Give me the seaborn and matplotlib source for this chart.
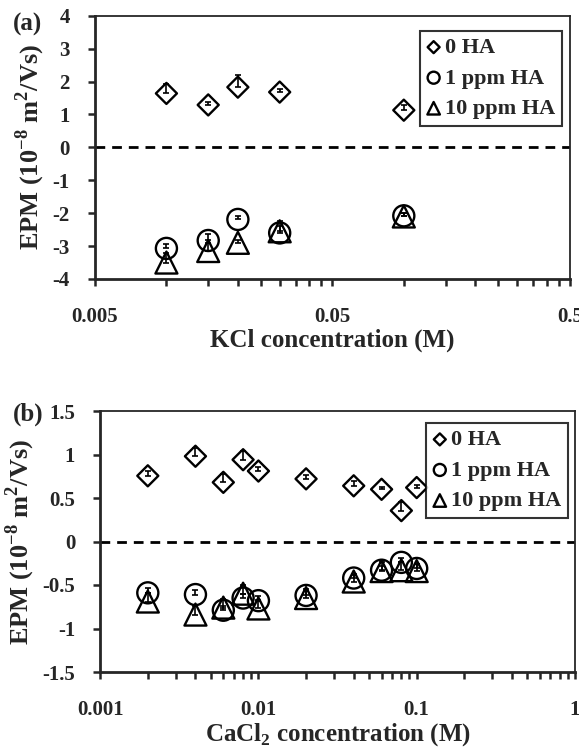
import numpy as np
import pandas as pd
import matplotlib
matplotlib.use("Agg")
import matplotlib.pyplot as plt
import matplotlib.ticker as mticker
import seaborn as sns

# --- Data: panel (a) KCl ---
kcl_conc = [0.01, 0.015, 0.02, 0.03, 0.1]
kcl_0ha = [1.64, 1.29, 1.83, 1.68, 1.13]
kcl_0ha_err = [0.30, 0.10, 0.37, 0.08, 0.15]
kcl_1ha = [-3.07, -2.83, -2.19, -2.60, -2.08]
kcl_1ha_err = [0.12, 0.20, 0.10, 0.20, 0.10]
kcl_10ha = [-3.50, -3.15, -2.90, -2.55, -2.10]
kcl_10ha_err = [0.30, 0.25, 0.10, 0.30, 0.10]

# --- Data: panel (b) CaCl2 ---
cacl_conc = [0.002, 0.004, 0.006, 0.008, 0.01, 0.02, 0.04, 0.06, 0.08, 0.1]
cacl_0ha = [0.755, 0.98, 0.68, 0.94, 0.81, 0.72, 0.64, 0.60, 0.355, 0.62]
cacl_0ha_err = [0.05, 0.10, 0.10, 0.10, 0.05, 0.05, 0.05, 0.03, 0.10, 0.03]
cacl_1ha = [-0.59, -0.61, -0.79, -0.65, -0.68, -0.62, -0.42, -0.33, -0.24, -0.31]
cacl_1ha_err = [0.05, 0.05, 0.05, 0.05, 0.05, 0.05, 0.05, 0.05, 0.05, 0.05]
cacl_10ha = [-0.69, -0.84, -0.76, -0.60, -0.77, -0.65, -0.46, -0.34, -0.33, -0.34]
cacl_10ha_err = [0.10, 0.10, 0.10, 0.10, 0.10, 0.10, 0.08, 0.10, 0.10, 0.08]

LABELS = ["0 HA", "1 ppm HA", "10 ppm HA"]
MARKERS = ["D", "o", "^"]
SIZES = [115, 230, 250]

sns.set_style("ticks")
plt.rcParams['font.family'] = ['Liberation Serif', 'DejaVu Serif']
plt.rcParams['font.weight'] = 'bold'
plt.rcParams['mathtext.fontset'] = 'custom'
plt.rcParams['mathtext.rm'] = 'Liberation Serif:bold'
plt.rcParams['mathtext.bf'] = 'Liberation Serif:bold'

fig = plt.figure(figsize=(5.79, 7.5), dpi=100)
ax_a = fig.add_axes([0.164, 0.628, 0.820, 0.351])
ax_b = fig.add_axes([0.173, 0.104, 0.820, 0.348])


def draw_panel(ax, conc, series, errs, xlim, ylim, yticks, major, xlabel, ylabel, leg_anchor):
    for vals, err, lab, mk, s in zip(series, errs, LABELS, MARKERS, SIZES):
        df = pd.DataFrame({"conc": conc, "epm": vals})
        ax.errorbar(conc, vals, yerr=[np.zeros(len(err)), err], fmt="none",
                    ecolor="black", elinewidth=1.2, capsize=2.5, capthick=1.2, zorder=2)
        sns.scatterplot(data=df, x="conc", y="epm", ax=ax, marker=mk, s=s,
                        facecolors="none", edgecolor="black", linewidth=1.7,
                        label=lab, zorder=3)
    ax.axhline(0, color="black", linestyle=(0, (3.5, 2.5)), linewidth=2.0, zorder=1)
    ax.set_xscale("log")
    ax.set_xlim(*xlim)
    ax.set_ylim(*ylim)
    ax.set_yticks(yticks)
    ax.yaxis.set_major_formatter(mticker.FuncFormatter(lambda v, p: f"{v:g}"))
    ax.xaxis.set_major_locator(mticker.FixedLocator(major))
    ax.xaxis.set_major_formatter(mticker.FixedFormatter([f"{m:g}" for m in major]))
    minors = [m * k for m in major[:-1] for k in range(2, 10)]
    ax.xaxis.set_minor_locator(mticker.FixedLocator(minors))
    ax.xaxis.set_minor_formatter(mticker.NullFormatter())
    ax.tick_params(axis="both", which="both", direction="out", width=1.8, length=5,
                   labelsize=15)
    ax.tick_params(axis="y", which="major", pad=13)
    ax.tick_params(axis="x", which="major", pad=15)
    for lbl in ax.get_xticklabels() + ax.get_yticklabels():
        lbl.set_fontweight("bold")
    for side in ["top", "right"]:
        ax.spines[side].set_linewidth(1.3)
    for side in ["left", "bottom"]:
        ax.spines[side].set_linewidth(2.0)
    ax.set_xlabel(xlabel, fontsize=18, fontweight="bold", labelpad=1)
    ax.set_ylabel(ylabel, fontsize=19, fontweight="bold", labelpad=4)
    leg = ax.legend(loc="upper right", bbox_to_anchor=leg_anchor, fontsize=16,
                    frameon=True, fancybox=False, handletextpad=0.2,
                    borderpad=0.3, labelspacing=0.45, handlelength=0.6,
                    borderaxespad=0.0, markerscale=0.57)
    leg.get_frame().set_edgecolor("black")
    leg.get_frame().set_linewidth(1.5)
    for t in leg.get_texts():
        t.set_fontweight("bold")


ylab = r"EPM (10$^{-8}$ m$^{2}$/Vs)"
draw_panel(ax_a, kcl_conc, [kcl_0ha, kcl_1ha, kcl_10ha],
           [kcl_0ha_err, kcl_1ha_err, kcl_10ha_err],
           (0.005, 0.5), (-4, 4), [-4, -3, -2, -1, 0, 1, 2, 3, 4],
           [0.005, 0.05, 0.5], "KCl concentration (M)", ylab, (0.983, 0.943))
draw_panel(ax_b, cacl_conc, [cacl_0ha, cacl_1ha, cacl_10ha],
           [cacl_0ha_err, cacl_1ha_err, cacl_10ha_err],
           (0.001, 1), (-1.5, 1.5), [-1.5, -1, -0.5, 0, 0.5, 1, 1.5],
           [0.001, 0.01, 0.1, 1], r"CaCl$_{2}$ concentration (M)", ylab, (0.985, 0.954))

fig.text(0.022, 0.968, "(a)", fontsize=18, fontweight="bold", va="center")
fig.text(0.022, 0.447, "(b)", fontsize=18, fontweight="bold", va="center")

fig.savefig("out.png", dpi=100)
